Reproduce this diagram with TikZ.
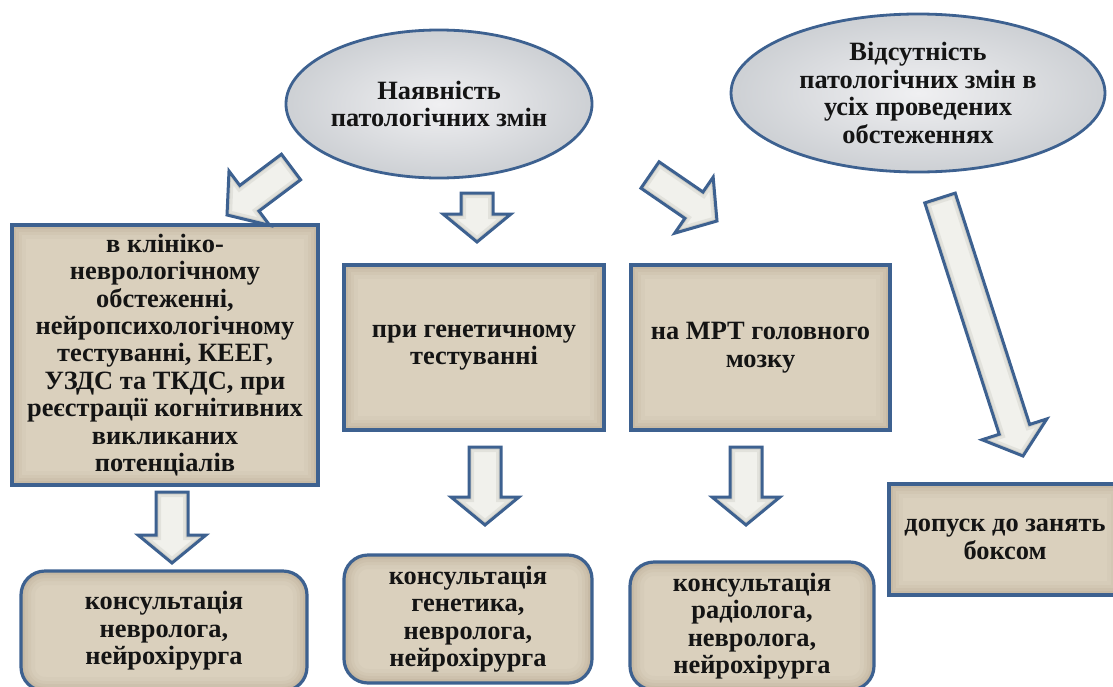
\documentclass[tikz,border=0pt]{standalone}
\usepackage{fontspec}
\setmainfont{Liberation Serif}
\usetikzlibrary{shapes.geometric,calc}

\definecolor{frameblue}{HTML}{3D6190}
\definecolor{burlap}{HTML}{DAD0BD}
\definecolor{burlapdark}{HTML}{A39579}
\definecolor{marble}{HTML}{F0F0F2}
\definecolor{marbledark}{HTML}{CDD0D4}
\definecolor{arrowfill}{HTML}{F1F1EC}
\definecolor{arrowdark}{HTML}{A9A9A0}

\tikzset{
  every node/.style={font=\fontsize{13.2}{13.7}\selectfont\bfseries, align=center, text=black!92},
  oval/.style={ellipse, draw=frameblue, line width=1.4pt, inner color=marble, outer color=marbledark, inner sep=0pt},
  glow/.style={path picture={
      \foreach \w/\o in {14pt/.06, 10pt/.08, 7pt/.1, 4pt/.14, 2pt/.18}
        \draw[draw=#1, line width=\w, opacity=\o, rounded corners=\boxradius]
          (path picture bounding box.south west) rectangle (path picture bounding box.north east);}},
  textbox/.style={rectangle, draw=frameblue, line width=1.6pt, fill=burlap, glow=burlapdark, inner sep=0pt},
  roundbox/.style={textbox, rounded corners=12pt},
  blockarrow/.style={draw=frameblue, line width=1.5pt, line join=miter},
}
\def\boxradius{0pt}

% hollow block arrow from #1 to #2
\newcommand{\blockarrow}[2]{%
  \coordinate (neck) at ($(#2)!14pt!(#1)$);
  \def\arrowpath{($(#1)!8pt!90:(#2)$) -- ($(neck)!8pt!90:(#2)$) -- ($(neck)!17pt!90:(#2)$) -- (#2)
    -- ($(neck)!17pt!-90:(#2)$) -- ($(neck)!8pt!-90:(#2)$) -- ($(#1)!8pt!-90:(#2)$) -- cycle}
  \begin{scope}
    \fill[arrowfill] \arrowpath;
    \clip \arrowpath;
    \draw[arrowdark, line width=5pt, opacity=.2] \arrowpath;
    \draw[arrowdark, line width=2.5pt, opacity=.3] \arrowpath;
  \end{scope}
  \draw[blockarrow] \arrowpath;}

\begin{document}
\begin{tikzpicture}[x=0.5pt, y=-0.5pt]
  \useasboundingbox (0,0) rectangle (1113,686);

  % top ovals
  \node[oval, minimum width=151pt, minimum height=74pt] (found) at (439,104) {Наявність\\патологічних змін};
  \node[oval, minimum width=187pt, minimum height=79pt] (clear) at (918,93) {Відсутність\\патологічних змін в\\усіх проведених\\обстеженнях};

  % findings
  \node[textbox, minimum width=153pt, minimum height=130pt] (clinic) at (165,355) {в клініко-\\неврологічному\\обстеженні,\\нейропсихологічному\\тестуванні, КЕЕГ,\\УЗДС та ТКДС, при\\реєстрації когнітивних\\викликаних\\потенціалів};
  \node[textbox, minimum width=130pt, minimum height=82.5pt] (genetic) at (474,347.5) {при генетичному\\тестуванні};
  \node[textbox, minimum width=129.5pt, minimum height=82.5pt] (mri) at (760.5,347.5) {на МРТ головного\\мозку};
  \node[textbox, minimum width=116pt, minimum height=55.5pt] (admit) at (1005,539.5) {допуск до занять\\боксом};

  % consultations
  \def\boxradius{12pt}
  \node[roundbox, minimum width=143pt, minimum height=60pt] (consA) at (164,631) {консультація\\невролога,\\нейрохірурга};
  \node[roundbox, minimum width=124pt, minimum height=64pt] (consB) at (468,619) {консультація\\генетика,\\невролога,\\нейрохірурга};
  \node[roundbox, minimum width=122pt, minimum height=64pt] (consC) at (752,626) {консультація\\радіолога,\\невролога,\\нейрохірурга};

  % arrow ends
  \coordinate (a1s) at (291,167); \coordinate (a1t) at (227,215);
  \coordinate (a2s) at (477,193); \coordinate (a2t) at (477,242);
  \coordinate (a3s) at (650,175); \coordinate (a3t) at (717,221);
  \coordinate (a4s) at (940,198); \coordinate (a4t) at (1023,456);
  \coordinate (a5s) at (172,492); \coordinate (a5t) at (172,563);
  \coordinate (a6s) at (485,447); \coordinate (a6t) at (485,525);
  \coordinate (a7s) at (746,447); \coordinate (a7t) at (746,525);

  \blockarrow{a1s}{a1t}
  \blockarrow{a2s}{a2t}
  \blockarrow{a3s}{a3t}
  \blockarrow{a4s}{a4t}
  \blockarrow{a5s}{a5t}
  \blockarrow{a6s}{a6t}
  \blockarrow{a7s}{a7t}
\end{tikzpicture}
\end{document}
